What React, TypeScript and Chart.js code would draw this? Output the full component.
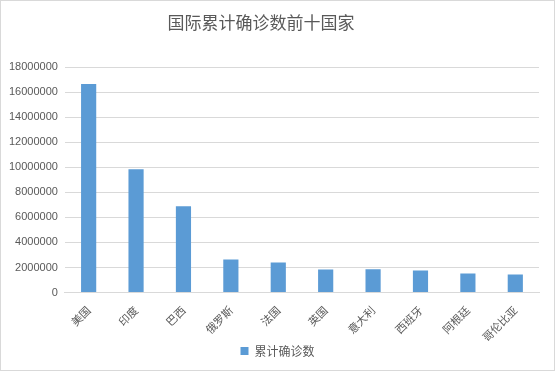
import React, { useEffect, useRef } from "react";
import { Chart, registerables } from "chart.js";

Chart.register(...registerables);

const categories = ["美国", "印度", "巴西", "俄罗斯", "法国", "英国", "意大利", "西班牙", "阿根廷", "哥伦比亚"];
const confirmed = [16640000, 9840000, 6890000, 2640000, 2400000, 1840000, 1850000, 1760000, 1520000, 1440000];
const seriesName = "累计确诊数";
const titleText = "国际累计确诊数前十国家";

const titlePlugin = {
  id: "offsetTitle",
  afterDraw(chart: any) {
    const c = chart.ctx;
    c.save();
    c.fillStyle = "#595959";
    c.font = "normal 17px 'Noto Sans CJK SC'";
    c.textAlign = "center";
    c.textBaseline = "middle";
    c.fillText(titleText, 260, 22);
    c.restore();
  },
};

export default function App() {
  const ref = useRef<HTMLCanvasElement>(null);
  useEffect(() => {
    document.body.style.margin = "0";
    const ctx = ref.current!;
    const chart = new Chart(ctx, {
      type: "bar",
      data: {
        labels: categories,
        datasets: [
          {
            label: seriesName,
            data: confirmed,
            backgroundColor: "#5b9bd5",
            categoryPercentage: 0.64,
            barPercentage: 0.5,
          },
        ],
      },
      plugins: [titlePlugin],
      options: {
        animation: false,
        responsive: false,
        maintainAspectRatio: false,
        layout: { padding: { left: 1, right: 1, top: 66, bottom: 3 } },
        plugins: {
          title: { display: false },
          legend: {
            position: "bottom",
            labels: {
              boxWidth: 8,
              boxHeight: 8,
              color: "#595959",
              font: { family: "'Noto Sans CJK SC'", size: 12 },
              padding: 3,
            },
          },
          tooltip: { enabled: false },
        },
        scales: {
          x: {
            grid: { display: false },
            border: { color: "#d9d9d9" },
            afterFit: (scale: any) => {
              scale.paddingLeft = 0;
              scale.paddingRight = 15;
              scale.height = scale.height - 5;
            },
            ticks: {
              color: "#595959",
              font: { family: "'Noto Sans CJK SC'", size: 11 },
              minRotation: 45,
              maxRotation: 45,
            },
          },
          y: {
            min: 0,
            max: 18000000,
            grid: { color: "#d9d9d9", drawTicks: false },
            border: { display: false },
            ticks: {
              stepSize: 2000000,
              color: "#595959",
              font: { family: "'Liberation Sans', Arial", size: 11 },
              padding: 7,
              callback: (v: any) => String(v),
            },
          },
        },
      },
    });
    return () => chart.destroy();
  }, []);
  return (
    <div style={{ width: 555, height: 371, boxSizing: "border-box", border: "1px solid #d9d9d9", background: "#fff" }}>
      <canvas ref={ref} width={553} height={369} style={{ display: "block" }} />
    </div>
  );
}
